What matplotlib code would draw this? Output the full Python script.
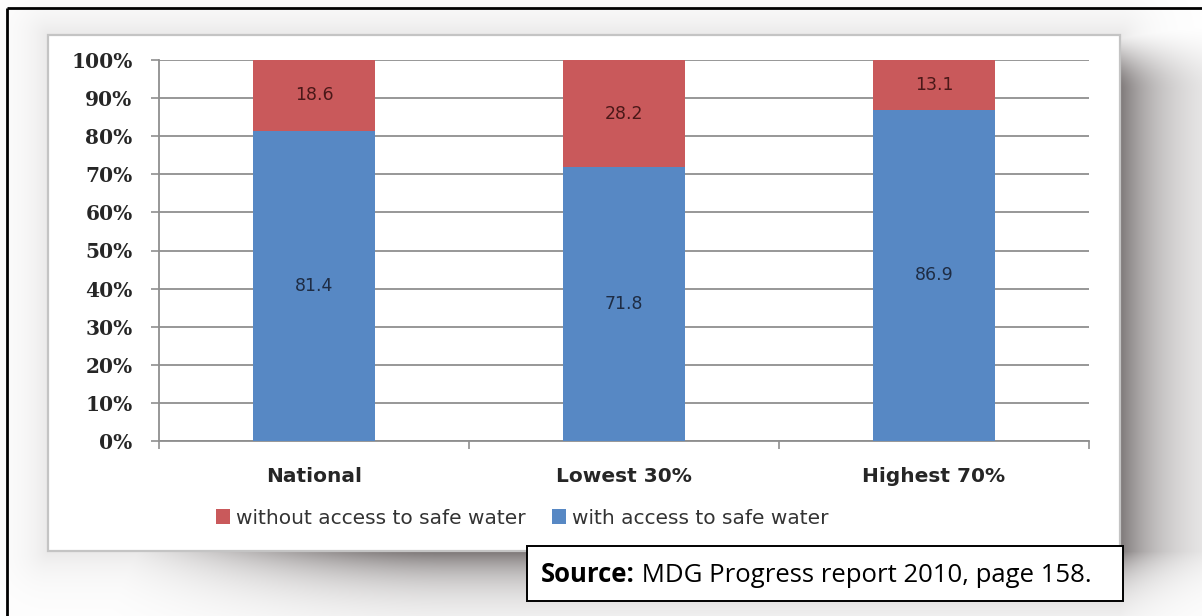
import numpy as np
import matplotlib
matplotlib.use("Agg")
import matplotlib.pyplot as plt
from matplotlib.patches import Rectangle
from matplotlib.ticker import FixedLocator, FuncFormatter

# ---- data -------------------------------------------------------------
categories = ["National", "Lowest 30%", "Highest 70%"]
with_access = [81.4, 71.8, 86.9]
without_access = [18.6, 28.2, 13.1]
series_labels = ["without access to safe water", "with access to safe water"]
y_ticks = [0, 10, 20, 30, 40, 50, 60, 70, 80, 90, 100]
source_bold = "Source:"
source_rest = " MDG Progress report 2010, page 158."

# ---- styling ----------------------------------------------------------
W, H = 1202, 616
RED = "#C9595B"
BLUE = "#5788C4"
GRID = "#8f8f8f"

fig = plt.figure(figsize=(W / 100, H / 100), dpi=100)
fig.patch.set_facecolor("white")

# background layer in pixel coordinates: soft shadow around the chart card
bg = fig.add_axes([0, 0, 1, 1], zorder=0)
bg.set_xlim(0, W)
bg.set_ylim(H, 0)
bg.axis("off")

box_l, box_t, box_r, box_b = 48, 35, 1120, 551
yy, xx = np.mgrid[0:H, 0:W].astype(float)


def smooth(t):
    t = np.clip(t, 0, 1)
    return t * t * (3 - 2 * t)


# right-hand shadow
dr = xx - box_r
env_r = smooth((yy - 20) / 70) * np.exp(-np.clip(yy - box_b, 0, None) / 30)
a_r = np.where(dr > 0, 0.72 * np.exp(-dr / 50) * env_r, 0)
# bottom shadow
db = yy - box_b
env_b = smooth((xx - 30) / 420) * np.exp(-np.clip(xx - box_r, 0, None) / 40)
a_b = np.where(db > 0, 0.74 * np.exp(-db / 30) * env_b, 0)
# faint glow all round the card
dx = np.maximum(np.maximum(box_l - xx, xx - box_r), 0)
dy = np.maximum(np.maximum(box_t - yy, yy - box_b), 0)
dist = np.hypot(dx, dy)
a_g = np.where(dist > 0, 0.12 * np.exp(-dist / 24), 0)
alpha = np.maximum(np.maximum(a_r, a_b), a_g)

shade = np.array([0.30, 0.27, 0.27])
img = 1 - alpha[..., None] * (1 - shade)
bg.imshow(img, extent=[0, W, H, 0], aspect="auto", zorder=0, interpolation="bilinear")

# chart card
bg.add_patch(Rectangle((box_l, box_t), box_r - box_l, box_b - box_t,
                       facecolor="white", edgecolor="#c4c4c4", lw=1.6, zorder=1))

# page frame lines
bg.plot([7, W], [8, 8], color="black", lw=2, zorder=2, solid_capstyle="butt")
bg.plot([7, 7], [8, H], color="black", lw=2, zorder=2, solid_capstyle="butt")

# source box, bold lead-in followed by regular text on a shared baseline
bg.add_patch(Rectangle((527, 546), 1123 - 527, 601 - 546,
                       facecolor="white", edgecolor="black", lw=1.4, zorder=3))
base_y = 582
t1 = bg.text(541, base_y, source_bold, fontsize=18.5, fontweight="bold",
             family="Open Sans", va="baseline", ha="left", zorder=4)
fig.canvas.draw()
bb = t1.get_window_extent()
bg.text(bb.x1, H - base_y, source_rest, fontsize=18.5, family="Open Sans",
        va="baseline", ha="left", zorder=4, transform=None)

# ---- bar chart --------------------------------------------------------
ax_l, ax_r, ax_b, ax_t = 159, 1089, 441, 60
ax = fig.add_axes([ax_l / W, (H - ax_b) / H, (ax_r - ax_l) / W, (ax_b - ax_t) / H],
                  zorder=2)
ax.patch.set_alpha(0)

x = np.arange(len(categories))
bw = 0.395
b_with = ax.bar(x, with_access, width=bw, color=BLUE, zorder=3,
                label=series_labels[1])
b_without = ax.bar(x, without_access, width=bw, bottom=with_access, color=RED,
                   zorder=3, label=series_labels[0])

for xi, w, wo in zip(x, with_access, without_access):
    ax.text(xi, w / 2, f"{w:.1f}", ha="center", va="center", fontsize=12.5,
            color="#1e2c44", zorder=4)
    ax.text(xi, w + wo / 2, f"{wo:.1f}", ha="center", va="center", fontsize=12.5,
            color="#4a1818", zorder=4)

ax.set_xlim(-0.5, len(categories) - 0.5)
ax.set_ylim(0, 100)
ax.yaxis.set_major_locator(FixedLocator(y_ticks))
ax.yaxis.set_major_formatter(FuncFormatter(lambda v, p: f"{int(v)}%"))
ax.grid(axis="y", color=GRID, lw=1.3, zorder=1)
ax.set_axisbelow(True)

for s in ("top", "right"):
    ax.spines[s].set_visible(False)
for s in ("left", "bottom"):
    ax.spines[s].set_color(GRID)
    ax.spines[s].set_linewidth(1.3)

ax.tick_params(axis="y", length=6, width=1.2, color=GRID, pad=13,
               labelsize=14.5, labelcolor="#262626")
for lab in ax.get_yticklabels():
    lab.set_family("DejaVu Serif")
    lab.set_fontweight("bold")

ax.set_xticks(x)
ax.set_xticklabels(categories, fontsize=14.5, fontweight="bold", color="#262626")
ax.set_xticks(np.arange(-0.5, len(categories)), minor=True)
ax.tick_params(axis="x", which="major", length=0, pad=19)
ax.tick_params(axis="x", which="minor", length=6, width=1.2, color=GRID)

fig.legend(handles=[b_without, b_with], labels=series_labels, ncol=2,
           loc="center", bbox_to_anchor=(522 / W, 1 - 518 / H), frameon=False,
           fontsize=14.5, handlelength=0.7, handleheight=0.7, handletextpad=0.3,
           columnspacing=1.3, labelcolor="#333333")

fig.savefig("out.png", dpi=100)
